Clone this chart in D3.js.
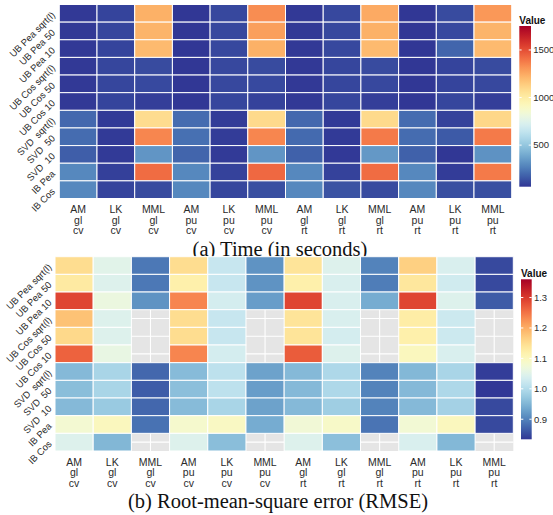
<!DOCTYPE html>
<html><head><meta charset="utf-8">
<script src="https://cdn.jsdelivr.net/npm/d3@7"></script>
<style>body{margin:0;background:#fff} svg{display:block}</style>
</head><body><svg id="c" width="553" height="515"></svg>
<script>
// ---- data ----
const colLabels = [["AM","gl","cv"],["LK","gl","cv"],["MML","gl","cv"],["AM","pu","cv"],["LK","pu","cv"],["MML","pu","cv"],
                   ["AM","gl","rt"],["LK","gl","rt"],["MML","gl","rt"],["AM","pu","rt"],["LK","pu","rt"],["MML","pu","rt"]];
const rowLabels = ["UB Pea sqrt(l)","UB Pea 50","UB Pea 10","UB Cos sqrt(l)","UB Cos 50","UB Cos 10",
                   "SVD  sqrt(l)","SVD  50","SVD  10","IB Pea","IB Cos"];
const timeValues = [
  [70,100,1230,65,110,1330,70,110,1250,65,120,1300],
  [70,105,1220,65,110,1280,70,110,1230,65,115,1220],
  [70,100,1200,65,110,1230,70,110,1200,65,190,1200],
  [70,105,120,65,110,120,70,105,120,65,100,120],
  [70,105,115,65,110,115,70,105,110,65,100,110],
  [70,100,85,65,105,95,70,105,85,65,105,85],
  [200,75,1080,210,80,1090,200,75,1090,210,95,1100],
  [210,75,1350,220,80,1350,205,75,1380,210,160,1380],
  [170,75,330,190,75,330,180,72,340,180,65,320],
  [290,90,1420,290,95,1430,290,95,1420,290,80,1380],
  [290,100,120,290,105,130,290,140,120,290,130,130]
];
const rmseValues = [
  [1.15,1.05,0.89,1.15,1.02,0.915,1.14,1.045,0.90,1.165,1.04,0.85],
  [1.13,1.045,0.89,1.12,1.02,0.915,1.12,1.04,0.895,1.135,1.03,0.85],
  [1.29,1.065,0.915,1.235,1.035,0.925,1.29,1.04,0.94,1.29,1.045,0.865],
  [1.18,1.045,null,1.15,1.02,null,1.14,1.04,null,1.125,1.025,null],
  [1.155,1.045,null,1.15,1.02,null,1.14,1.035,null,1.12,1.025,null],
  [1.265,1.06,null,1.235,1.035,null,1.27,1.045,null,1.10,1.04,null],
  [0.955,0.99,0.875,0.957,1.01,0.93,0.955,0.995,0.90,0.953,0.99,0.84],
  [0.96,0.99,0.866,0.962,1.01,0.925,0.955,0.995,0.90,0.955,0.995,0.835],
  [0.955,0.975,0.875,0.957,0.99,0.93,0.955,0.98,0.90,0.955,0.985,0.85],
  [1.08,1.10,0.885,1.085,1.095,0.94,1.075,1.09,0.887,1.077,1.10,0.85],
  [1.045,0.952,null,1.045,0.96,null,1.045,0.962,null,1.04,0.953,null]
];
const timeLimits = [63, 1752];
const rmseLimits = [0.834, 1.36];
const timeTicks = [500, 1000, 1500];
const rmseTicks = [0.9, 1.0, 1.1, 1.2, 1.3];
const captions = ["(a) Time (in seconds)", "(b) Root-mean-square error (RMSE)"];
const legendTitle = "Value";

// ---- drawing ----
const svg = d3.select("#c");
const SANS = "'Liberation Sans', Arial, Helvetica, sans-serif";
const SERIF = "'Liberation Serif', 'Times New Roman', serif";

function heatmap(cfg, id) {
  const g = svg.append("g");
  const x = d3.scaleBand().domain(d3.range(colLabels.length)).range([cfg.x0, cfg.x1]);
  const y = d3.scaleBand().domain(d3.range(rowLabels.length)).range([cfg.y0, cfg.y1]);
  const color = d3.scaleSequential(t => d3.interpolateRdYlBu(1 - t)).domain(cfg.limits);

  // panel background + grid
  g.append("rect").attr("x", cfg.x0).attr("y", cfg.y0)
    .attr("width", cfg.x1 - cfg.x0).attr("height", cfg.y1 - cfg.y0).attr("fill", "#e5e5e5");
  g.selectAll(".vg").data(x.domain()).join("line")
    .attr("x1", d => x(d) + x.bandwidth()/2).attr("x2", d => x(d) + x.bandwidth()/2)
    .attr("y1", cfg.y0).attr("y2", cfg.y1).attr("stroke", "#fff").attr("stroke-width", 1.1);
  g.selectAll(".hg").data(y.domain()).join("line")
    .attr("y1", d => y(d) + y.bandwidth()/2).attr("y2", d => y(d) + y.bandwidth()/2)
    .attr("x1", cfg.x0).attr("x2", cfg.x1).attr("stroke", "#fff").attr("stroke-width", 1.1);

  // tiles
  const cells = [];
  cfg.values.forEach((row, r) => row.forEach((v, c) => { if (v !== null) cells.push({r, c, v}); }));
  g.selectAll(".tile").data(cells).join("rect")
    .attr("x", d => x(d.c)).attr("y", d => y(d.r))
    .attr("width", x.bandwidth()).attr("height", y.bandwidth())
    .attr("fill", d => color(d.v)).attr("stroke", "#fff").attr("stroke-width", 1);

  // x labels
  const xl = g.selectAll(".xl").data(colLabels).join("text")
    .attr("text-anchor", "middle").attr("font-family", SANS).attr("font-size", 10.5).attr("fill", "#2b2b2b");
  xl.each(function(lines, i) {
    const t = d3.select(this);
    lines.forEach((s, k) => t.append("tspan")
      .attr("x", x(i) + x.bandwidth()/2).attr("y", cfg.xlabY + k * cfg.xlabStep).text(s));
  });

  // y labels rotated
  g.selectAll(".yl").data(rowLabels).join("text")
    .attr("transform", (d, i) => `translate(${cfg.x0 - cfg.ylOff},${y(i) + y.bandwidth()/2}) rotate(-45)`)
    .attr("text-anchor", "end").attr("dy", "0.35em")
    .attr("font-family", SANS).attr("font-size", 9.5).attr("fill", "#2b2b2b")
    .style("white-space", "pre").text(d => d);

  // legend
  const L = cfg.legend;
  const ly = d3.scaleLinear().domain(cfg.limits).range([L.y1, L.y0]);
  const grad = svg.append("defs").append("linearGradient").attr("id", id)
    .attr("x1", 0).attr("y1", 1).attr("x2", 0).attr("y2", 0);
  d3.range(0, 1.0001, 0.02).forEach(t => grad.append("stop")
    .attr("offset", t).attr("stop-color", color(cfg.limits[0] + t * (cfg.limits[1] - cfg.limits[0]))));
  g.append("rect").attr("x", L.x).attr("y", L.y0).attr("width", L.w).attr("height", L.y1 - L.y0)
    .attr("fill", `url(#${id})`);
  cfg.ticks.forEach(tv => {
    const yy = ly(tv);
    g.append("line").attr("x1", L.x).attr("x2", L.x + 2.3).attr("y1", yy).attr("y2", yy)
      .attr("stroke", "#fff").attr("stroke-width", 1);
    g.append("line").attr("x1", L.x + L.w - 2.3).attr("x2", L.x + L.w).attr("y1", yy).attr("y2", yy)
      .attr("stroke", "#fff").attr("stroke-width", 1);
  });
  g.selectAll(".lt").data(cfg.ticks).join("text")
    .attr("x", L.x + L.w + 2.2).attr("y", d => ly(d)).attr("dy", "0.35em")
    .attr("font-family", SANS).attr("font-size", 9.5).attr("fill", "#2b2b2b")
    .text(cfg.fmt);
  g.append("text").attr("x", L.x).attr("y", L.titleY)
    .attr("font-family", SANS).attr("font-size", 10).attr("font-weight", "bold").attr("fill", "#111")
    .text(legendTitle);

  // caption
  g.append("text").attr("x", cfg.capX).attr("y", cfg.capY).attr("text-anchor", "middle")
    .attr("font-family", SERIF).attr("font-size", 20.5).attr("fill", "#111").text(cfg.caption);
}

heatmap({
  x0: 59.3, x1: 511.7, y0: 4.5, y1: 198.5,
  values: timeValues, limits: timeLimits, ticks: timeTicks, fmt: d3.format("d"),
  xlabY: 213.2, xlabStep: 10.5, ylOff: 6,
  legend: {x: 519.3, w: 11.7, y0: 26, y1: 186.7, titleY: 23.5},
  caption: captions[0], capX: 280, capY: 255.8
}, "gTime");

heatmap({
  x0: 55, x1: 513.3, y0: 256.7, y1: 451,
  values: rmseValues, limits: rmseLimits, ticks: rmseTicks, fmt: d3.format(".1f"),
  xlabY: 465.8, xlabStep: 10.5, ylOff: 5,
  legend: {x: 521, w: 10.7, y0: 279.3, y1: 439.3, titleY: 276.5},
  caption: captions[1], capX: 278, capY: 507.5
}, "gRmse");
</script>
</body></html>
